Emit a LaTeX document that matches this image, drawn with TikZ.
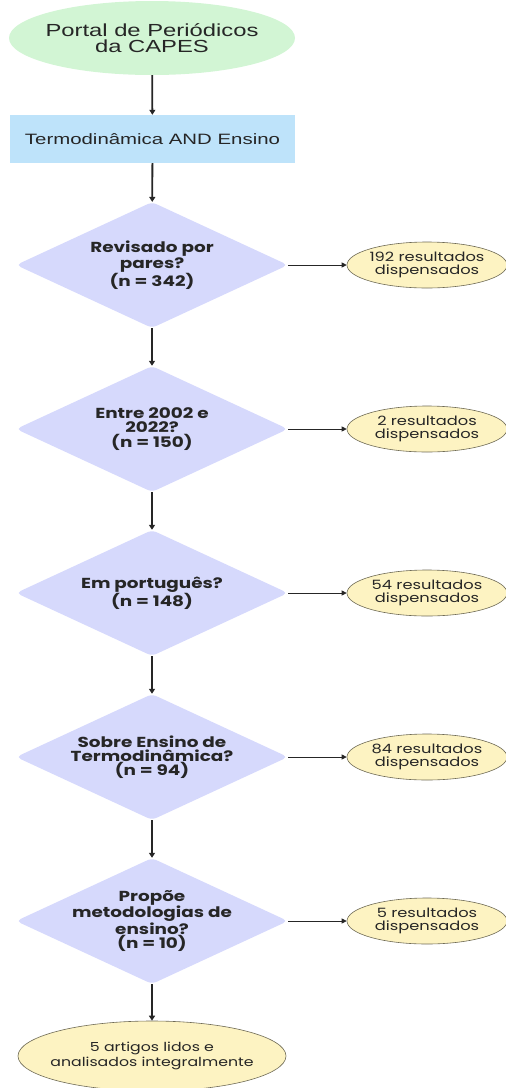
\documentclass[tikz,border=0pt]{standalone}
\usepackage{fontspec}
\setmainfont{Poppins}[FakeStretch=1.27]
\newfontfamily\topfont{Liberation Sans}[FakeStretch=1.36]
\usetikzlibrary{shapes.geometric,arrows.meta}
\definecolor{topgreen}{HTML}{D2F5D4}
\definecolor{boxblue}{HTML}{BEE3FA}
\definecolor{diam}{HTML}{D6D9FC}
\definecolor{yel}{HTML}{FDF3C2}
\definecolor{yelborder}{HTML}{6E6A55}
\begin{document}
\begin{tikzpicture}[x=1pt,y=-1pt,
  inlabel/.style={align=center,inner sep=0pt,text=black!85},
  startnode/.style={ellipse,fill=topgreen,minimum width=286pt,minimum height=74pt,inner sep=0pt},
  querybox/.style={rectangle,fill=boxblue,minimum width=285pt,minimum height=48pt,inner sep=0pt},
  decision/.style={diamond,fill=diam,minimum width=272pt,minimum height=126pt,aspect=2.16,inner sep=0pt,rounded corners=5pt},
  dropped/.style={ellipse,fill=yel,draw=yelborder,line width=0.6pt,minimum width=160pt,minimum height=46pt,inner sep=0pt},
  final/.style={ellipse,fill=yel,draw=yelborder,line width=0.6pt,minimum width=268pt,minimum height=70pt,inner sep=0pt},
  toptext/.style={label={[inlabel,font=\topfont\fontsize{17.5}{16.5}\selectfont]center:#1}},
  boxtext/.style={label={[inlabel,font=\topfont\fontsize{15}{15}\selectfont]center:#1}},
  dtext/.style={label={[inlabel,font=\bfseries\fontsize{14.5}{14.3}\selectfont]center:#1}},
  rtext/.style={label={[inlabel,font=\fontsize{12.8}{12.7}\selectfont]center:#1}},
  ftext/.style={label={[inlabel,font=\fontsize{12.4}{14.5}\selectfont]center:#1}},
  down/.style={-{Triangle[length=5pt,width=6pt]},line width=1.8pt,draw=black!85},
  side/.style={-{Triangle[length=5pt,width=5pt]},line width=0.8pt,draw=black!85}
]
\useasboundingbox (0,0) rectangle (506,1088);
\node[startnode,toptext={Portal de Periódicos\\da CAPES}] (portal) at (152,38) {};
\node[querybox,boxtext={Termodinâmica AND Ensino}] (query) at (152.5,139) {};
\node[decision,dtext={Revisado por\\pares?\\(n = 342)}] (d1) at (152,265) {};
\node[decision,dtext={Entre 2002 e\\2022?\\(n = 150)}] (d2) at (152,429) {};
\node[decision,dtext={Em português?\\(n = 148)}] (d3) at (152,593) {};
\node[decision,dtext={Sobre Ensino de\\Termodinâmica?\\(n = 94)}] (d4) at (152,757) {};
\node[decision,dtext={Propõe\\metodologias de\\ensino?\\(n = 10)}] (d5) at (152,921) {};
\node[dropped,rtext={192 resultados\\dispensados}] (r1) at (427,265) {};
\node[dropped,rtext={2 resultados\\dispensados}] (r2) at (427,429) {};
\node[dropped,rtext={54 resultados\\dispensados}] (r3) at (427,593) {};
\node[dropped,rtext={84 resultados\\dispensados}] (r4) at (427,757) {};
\node[dropped,rtext={5 resultados\\dispensados}] (r5) at (427,921) {};
\node[final,ftext={5 artigos lidos e\\analisados integralmente}] (fin) at (152,1056) {};
\draw[down] (portal) -- (query);
\draw[down] (query) -- (d1);
\draw[down] (d1) -- (d2);
\draw[down] (d2) -- (d3);
\draw[down] (d3) -- (d4);
\draw[down] (d4) -- (d5);
\draw[down] (d5) -- (fin);
\draw[side] (d1) -- (r1);
\draw[side] (d2) -- (r2);
\draw[side] (d3) -- (r3);
\draw[side] (d4) -- (r4);
\draw[side] (d5) -- (r5);
\end{tikzpicture}
\end{document}
